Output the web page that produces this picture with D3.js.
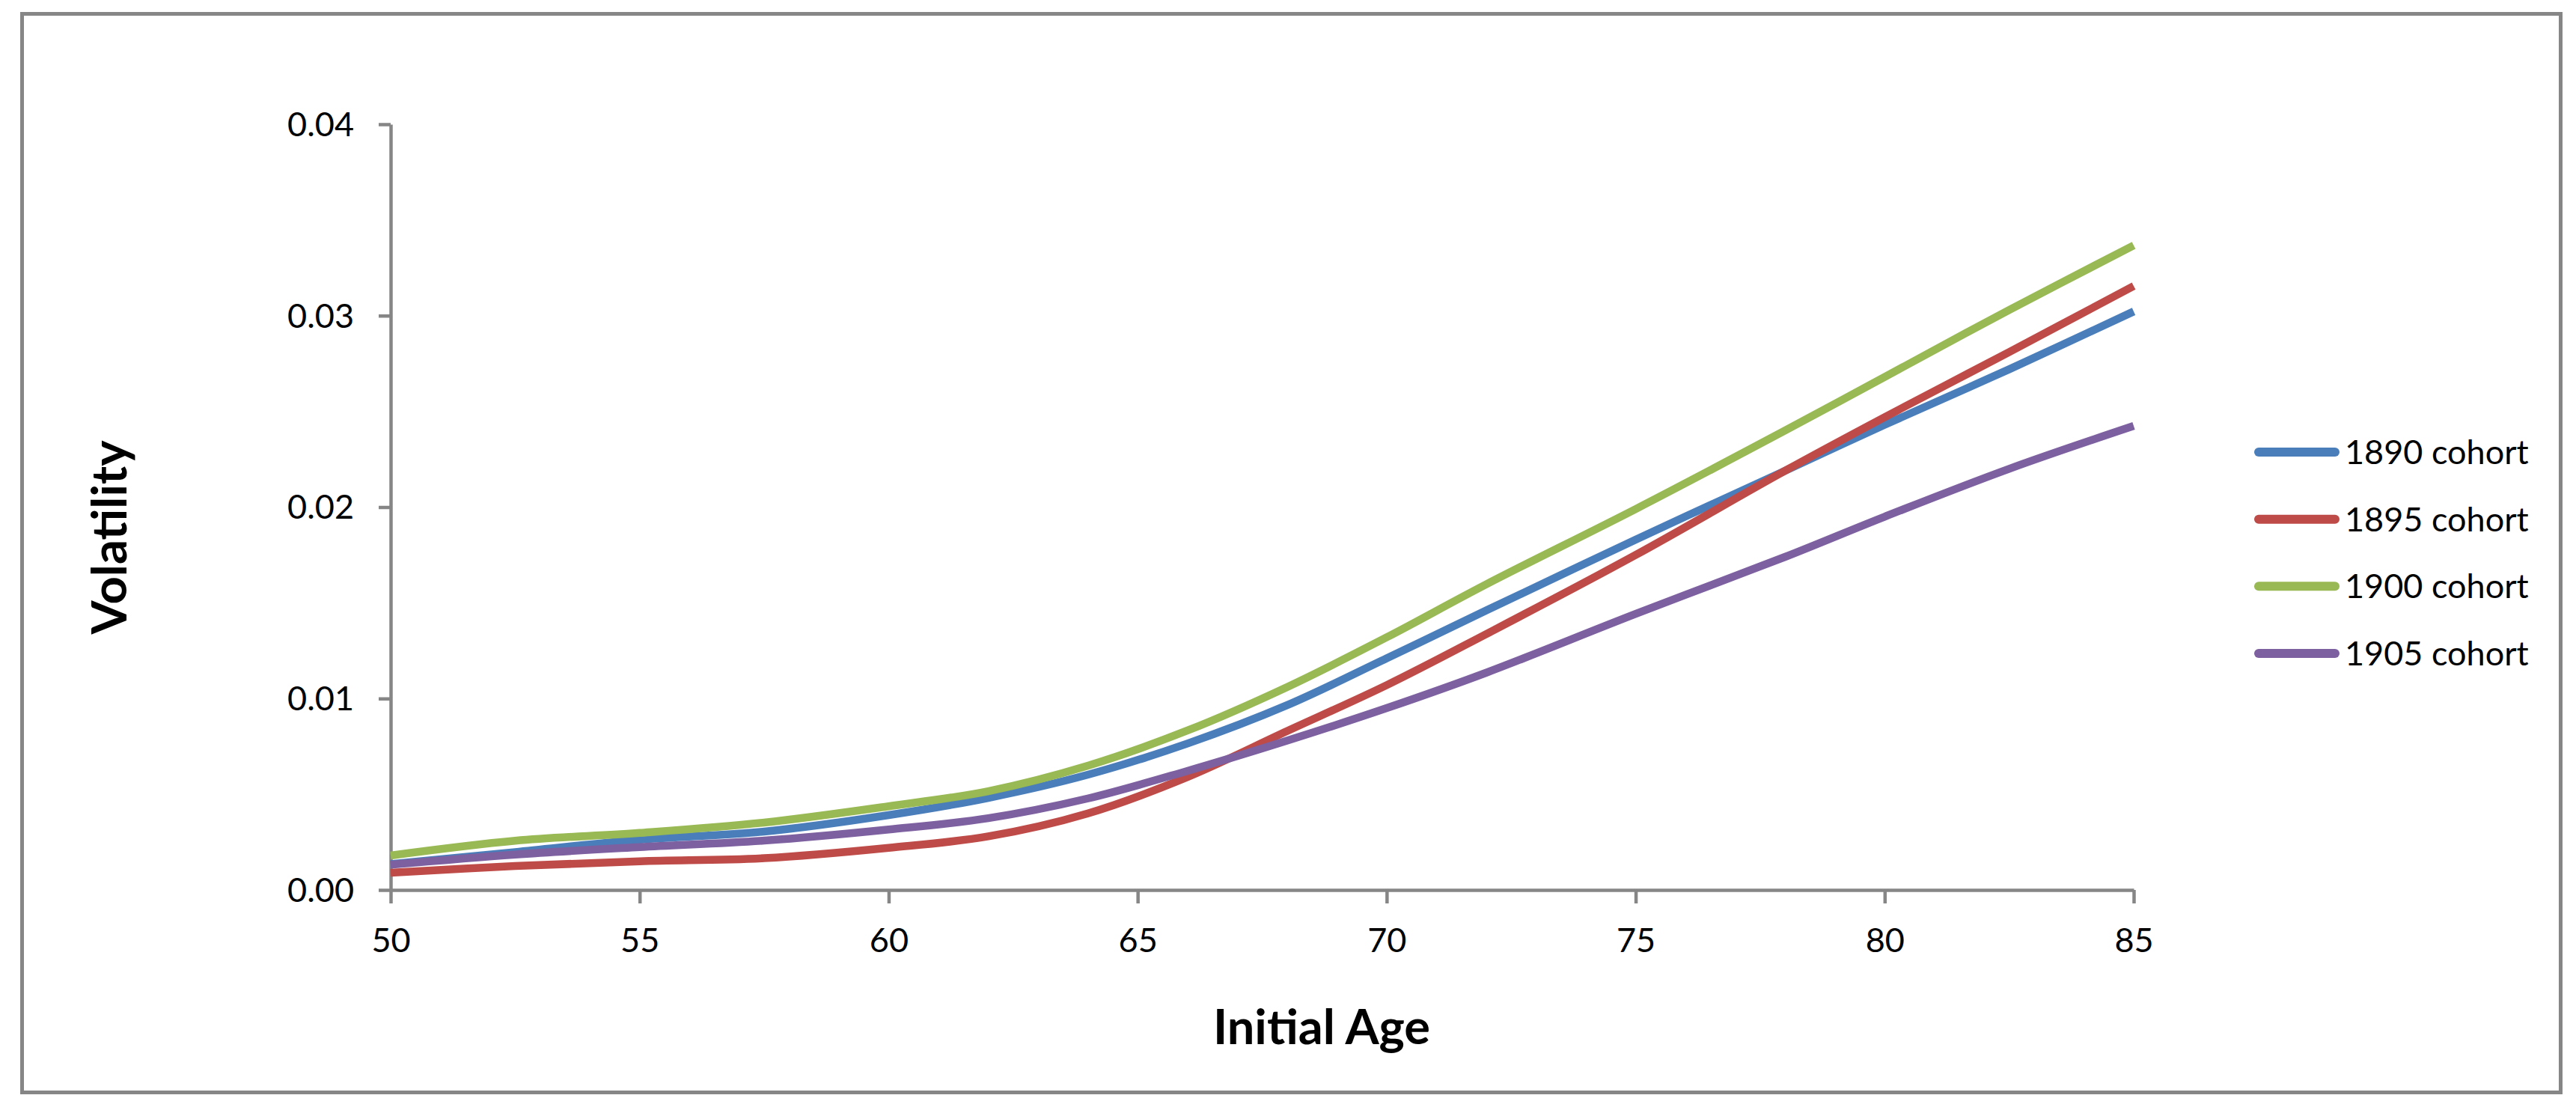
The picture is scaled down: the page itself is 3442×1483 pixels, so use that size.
<!DOCTYPE html>
<html>
<head>
<meta charset="utf-8">
<script src="https://cdn.jsdelivr.net/npm/d3@7"></script>
<style>
  html, body { margin: 0; padding: 0; background: #ffffff; }
  svg { display: block; }
  text { font-family: Lato, "Open Sans", sans-serif; fill: #000; }
</style>
</head>
<body>
<svg id="chart" width="3442" height="1483"></svg>
<script>
// ---- data ----
const ages = [50, 52.5, 55, 57.5, 60, 62, 64, 66, 68, 70, 72, 75, 78, 80, 82.5, 85];
const cohort1890 = [0.00135, 0.00198, 0.00262, 0.00305, 0.00391, 0.00481, 0.00602, 0.00765, 0.00965, 0.01210, 0.01460, 0.01830, 0.02190, 0.02430, 0.02720, 0.03022];
const cohort1895 = [0.00090, 0.00125, 0.00150, 0.00166, 0.00220, 0.00280, 0.00400, 0.00590, 0.00830, 0.01070, 0.01337, 0.01750, 0.02190, 0.02470, 0.02810, 0.03155];
const cohort1900 = [0.00180, 0.00257, 0.00298, 0.00352, 0.00437, 0.00516, 0.00649, 0.00833, 0.01060, 0.01320, 0.01597, 0.01990, 0.02400, 0.02680, 0.03030, 0.03367];
const cohort1905 = [0.00132, 0.00185, 0.00224, 0.00258, 0.00316, 0.00375, 0.00478, 0.00622, 0.00780, 0.00950, 0.01135, 0.01442, 0.01740, 0.01950, 0.02200, 0.02424];
const seriesNames = ["1890 cohort", "1895 cohort", "1900 cohort", "1905 cohort"];
const seriesColors = ["#4A7EBB", "#BE4B48", "#98B954", "#7D60A0"];
const xTicks = [50, 55, 60, 65, 70, 75, 80, 85];
const yTicks = [0, 0.01, 0.02, 0.03, 0.04];
const xTitle = "Initial Age";
const yTitle = "Volatility";

const seriesValues = [cohort1890, cohort1895, cohort1900, cohort1905];
const series = seriesNames.map((name, i) => ({
  name, color: seriesColors[i],
  points: ages.map((a, j) => ({ x: a, y: seriesValues[i][j] }))
}));

// ---- layout ----
const svg = d3.select("#chart");
const axisColor = "#868686";

svg.append("rect")
  .attr("x", 29.5).attr("y", 18.5)
  .attr("width", 3392).attr("height", 1441)
  .attr("fill", "#fff").attr("stroke", axisColor).attr("stroke-width", 5);

const x = d3.scaleLinear().domain([50, 85]).range([522, 2851]);
const y = d3.scaleLinear().domain([0, 0.04]).range([1189, 166]);

// y axis
const yAxis = d3.axisLeft(y).tickValues(yTicks).tickFormat(d3.format(".2f"))
  .tickSize(16).tickSizeOuter(0).tickPadding(33);
const gy = svg.append("g").attr("transform", `translate(${x(50)},0)`).call(yAxis);
gy.select(".domain").attr("stroke", axisColor).attr("stroke-width", 4.5);
gy.selectAll(".tick line").attr("stroke", axisColor).attr("stroke-width", 4.5);
gy.selectAll(".tick text").attr("font-size", 45).attr("fill", "#000")
  .attr("font-family", "Lato, 'Open Sans', sans-serif").attr("dy", "0.34em");

// x axis
const xAxis = d3.axisBottom(x).tickValues(xTicks).tickFormat(d3.format("d"))
  .tickSize(18).tickSizeOuter(0).tickPadding(33);
const gx = svg.append("g").attr("transform", `translate(0,${y(0)})`).call(xAxis);
gx.select(".domain").attr("stroke", axisColor).attr("stroke-width", 4.5);
gx.selectAll(".tick line").attr("stroke", axisColor).attr("stroke-width", 4.5);
gx.selectAll(".tick text").attr("font-size", 45).attr("fill", "#000")
  .attr("font-family", "Lato, 'Open Sans', sans-serif").attr("dy", "0.71em");

// lines
const line = d3.line().x(d => x(d.x)).y(d => y(d.y)).curve(d3.curveCatmullRom.alpha(0.5));
svg.append("g").selectAll("path").data(series).join("path")
  .attr("d", d => line(d.points))
  .attr("fill", "none")
  .attr("stroke", d => d.color)
  .attr("stroke-width", 10.5)
  .attr("stroke-linejoin", "round");

// axis titles
svg.append("text")
  .attr("x", 1766).attr("y", 1395)
  .attr("text-anchor", "middle")
  .attr("font-size", 65).attr("font-weight", "bold")
  .text(xTitle);

svg.append("text")
  .attr("transform", "translate(169,718) rotate(-90)")
  .attr("text-anchor", "middle")
  .attr("font-size", 65).attr("font-weight", "bold")
  .text(yTitle);

// legend
const legendY = d3.scalePoint().domain(seriesNames).range([604, 873]);
const lg = svg.append("g").selectAll("g").data(series).join("g")
  .attr("transform", d => `translate(0,${legendY(d.name)})`);
lg.append("line")
  .attr("x1", 3018).attr("x2", 3120).attr("y1", 0).attr("y2", 0)
  .attr("stroke", d => d.color).attr("stroke-width", 12).attr("stroke-linecap", "round");
lg.append("text")
  .attr("x", 3133).attr("y", 16)
  .attr("font-size", 45)
  .text(d => d.name);
</script>
</body>
</html>
